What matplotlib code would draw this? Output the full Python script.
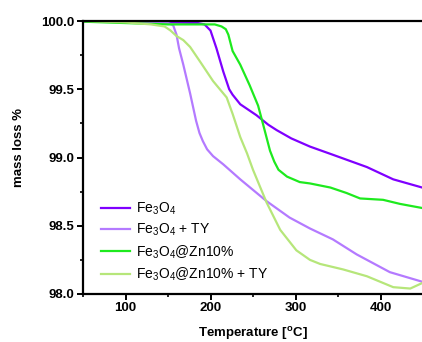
import matplotlib
matplotlib.use("Agg")
import matplotlib.pyplot as plt
from matplotlib.ticker import MultipleLocator

plt.rcParams["font.family"] = ["Liberation Sans", "DejaVu Sans"]
plt.rcParams["mathtext.fontset"] = "custom"
plt.rcParams["mathtext.rm"] = "Liberation Sans"
plt.rcParams["mathtext.bf"] = "Liberation Sans:bold"

# TGA curves: temperature (°C) and residual mass (%)
fe_t = [50, 100, 150, 185, 193, 200, 207, 215, 222, 226, 235, 254, 268, 278,
        295, 317, 344, 384, 415, 449]
fe_m = [99.995, 99.995, 99.99, 99.985, 99.975, 99.93, 99.80, 99.63, 99.50,
        99.46, 99.39, 99.31, 99.24, 99.20, 99.14, 99.08, 99.02, 98.93,
        98.84, 98.78]

fe_ty_t = [50, 100, 140, 150, 156, 160, 163, 168, 176, 183, 187, 191, 196,
           203, 215, 235, 266, 293, 317, 344, 372, 384, 411, 449]
fe_ty_m = [100.0, 99.995, 99.99, 99.985, 99.97, 99.90, 99.80, 99.68, 99.47,
           99.27, 99.18, 99.12, 99.06, 99.01, 98.95, 98.84, 98.68, 98.56,
           98.48, 98.40, 98.29, 98.25, 98.16, 98.09]

zn_t = [50, 100, 150, 190, 205, 213, 218, 221, 226, 235, 246, 256, 262, 270,
        275, 280, 290, 305, 317, 341, 360, 376, 403, 423, 449]
zn_m = [99.995, 99.985, 99.975, 99.975, 99.975, 99.96, 99.94, 99.90, 99.78,
        99.68, 99.53, 99.38, 99.24, 99.05, 98.97, 98.91, 98.86, 98.82,
        98.81, 98.78, 98.74, 98.70, 98.69, 98.66, 98.63]

zn_ty_t = [50, 100, 130, 146, 153, 160, 168, 176, 188, 203, 219, 226, 235,
           243, 250, 266, 282, 301, 317, 329, 356, 384, 415, 435, 449]
zn_ty_m = [100.0, 99.99, 99.975, 99.96, 99.93, 99.89, 99.86, 99.81, 99.70,
           99.56, 99.44, 99.32, 99.15, 99.03, 98.91, 98.67, 98.47, 98.32,
           98.25, 98.22, 98.18, 98.13, 98.05, 98.04, 98.08]

series = [
    (fe_t, fe_m, "Fe$_3$O$_4$", "#7f00ff"),
    (fe_ty_t, fe_ty_m, "Fe$_3$O$_4$ + TY", "#b47aff"),
    (zn_t, zn_m, "Fe$_3$O$_4$@Zn10%", "#1eea1e"),
    (zn_ty_t, zn_ty_m, "Fe$_3$O$_4$@Zn10% + TY", "#b6e67a"),
]

fig = plt.figure(figsize=(4.22, 3.42), dpi=100)
ax = fig.add_axes([83 / 422, 48 / 342, 340 / 422, 273 / 342])

for t, m, label, color in series:
    ax.plot(t, m, color=color, lw=1.6, label=label)

ax.set_xlim(50, 450)
ax.set_ylim(98.0, 100.0)
ax.xaxis.set_minor_locator(MultipleLocator(50))
ax.yaxis.set_minor_locator(MultipleLocator(0.25))
ax.set_yticks([98.0, 98.5, 99.0, 99.5, 100.0])
ax.set_yticklabels(["98.0", "98.5", "99.0", "99.5", "100.0"])
ax.set_xticks([100, 200, 300, 400])

for s in ax.spines.values():
    s.set_linewidth(1.6)
ax.tick_params(which="major", direction="out", length=4, width=1.4,
               labelsize=9.5, pad=2)
ax.tick_params(which="minor", direction="out", length=2, width=1.2)
for lab in ax.get_xticklabels() + ax.get_yticklabels():
    lab.set_fontweight("bold")

ax.set_xlabel(r"Temperature [$\mathbf{^o}$C]", fontsize=9.5, fontweight="bold")
ax.set_ylabel("mass loss %", fontsize=9.5, fontweight="bold")
ax.xaxis.set_label_coords(0.5, -0.115)
ax.yaxis.set_label_coords(-0.17, 0.535)

ax.legend(loc="lower left", bbox_to_anchor=(0.029, 0.010), frameon=False,
          fontsize=10, handlelength=2.1, handletextpad=0.4,
          labelspacing=0.35, borderaxespad=0.2)

fig.savefig("out.png", dpi=100)
